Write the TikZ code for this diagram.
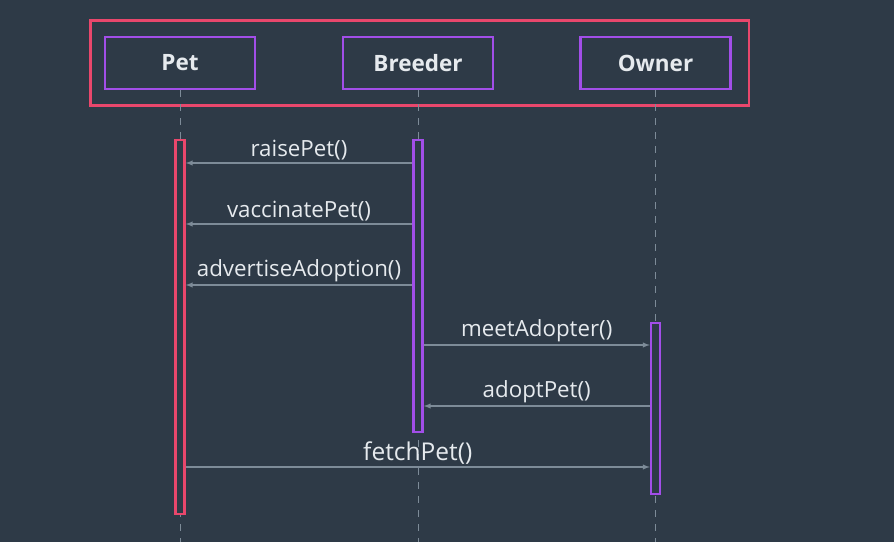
\documentclass[tikz,border=0pt]{standalone}
\usepackage{fontspec}
\setmainfont{Open Sans}
\usepackage{xcolor}
\usepackage{tikz}
\usetikzlibrary{shapes,arrows,positioning,fit,backgrounds,calc}

\definecolor{bgdark}{HTML}{2E3A47}
\definecolor{rosered}{HTML}{E9476C}
\definecolor{umlpurple}{HTML}{A24EE8}
\definecolor{msggray}{HTML}{7D8B98}
\definecolor{txtwhite}{HTML}{E6EAEE}

\begin{document}
\begin{tikzpicture}[x=1pt, y=-1pt,
    actor/.style={rectangle, draw=umlpurple, line width=2.6pt, minimum width=150pt, minimum height=52pt, text=txtwhite, font=\fontsize{22.5}{26}\selectfont\bfseries},
    actbar/.style={rectangle, fill=bgdark, line width=2.4pt, minimum width=9pt, inner sep=0pt},
    lifeline/.style={msggray, dash pattern=on 7pt off 7pt, line width=1pt},
    msg/.style={-latex, msggray, line width=1.4pt},
    msglabel/.style={above=1pt, inner sep=1pt, text=txtwhite, font=\fontsize{22.3}{26}\selectfont},
]

% Background and bounds
\fill[bgdark] (0,0) rectangle (894,542);
\useasboundingbox (0,0) rectangle (894,542);

% Objects
\node[actor] (petBox) at (180,63) {Pet};
\node[actor] (breedBox) at (418,63) {Breeder};
\node[actor] (ownerBox) at (655.5,63) {Owner};
\node[fit=(petBox)(ownerBox), draw=rosered, line width=2.6pt, inner xsep=15pt, inner ysep=15pt, xshift=2pt] (frame) {};

% Lifelines
\draw[lifeline] (petBox.south) -- (petBox.south |- 0,542);
\draw[lifeline] (breedBox.south) -- (breedBox.south |- 0,542);
\draw[lifeline] (ownerBox.south) -- (ownerBox.south |- 0,542);

% Activation bars
\node[actbar, draw=rosered, minimum height=374pt] (petAct) at (180,327) {};
\node[actbar, draw=umlpurple, minimum height=292pt] (breedAct) at (418,286) {};
\node[actbar, draw=umlpurple, minimum height=171pt] (ownerAct) at (655.5,408.5) {};

% Messages
\draw[msg] (breedAct.west |- 0,163) -- (petAct.east |- 0,163) node[msglabel, midway] {raisePet()};
\draw[msg] (breedAct.west |- 0,224) -- (petAct.east |- 0,224) node[msglabel, midway] {vaccinatePet()};
\draw[msg] (breedAct.west |- 0,285) -- (petAct.east |- 0,285) node[msglabel, midway] {advertiseAdoption()};
\draw[msg] (breedAct.east |- 0,345) -- (ownerAct.west |- 0,345) node[msglabel, midway] {meetAdopter()};
\draw[msg] (ownerAct.west |- 0,406) -- (breedAct.east |- 0,406) node[msglabel, midway] {adoptPet()};
\draw[msg] (petAct.east |- 0,467) -- (ownerAct.west |- 0,467) node[msglabel, midway, font=\fontsize{24.5}{28}\selectfont] {fetchPet()};

\end{tikzpicture}
\end{document}
